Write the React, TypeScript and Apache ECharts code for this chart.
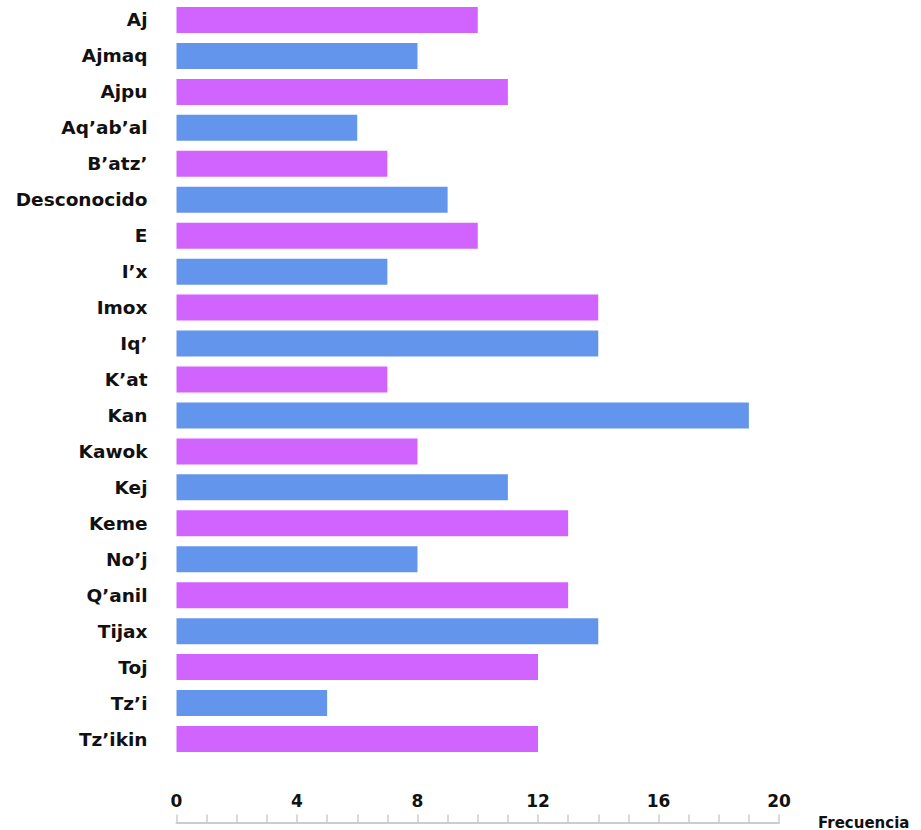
import React, { useEffect, useRef } from "react";
import * as echarts from "echarts";

const categories = [
  "Aj", "Ajmaq", "Ajpu", "Aq’ab’al", "B’atz’", "Desconocido", "E", "I’x", "Imox", "Iq’",
  "K’at", "Kan", "Kawok", "Kej", "Keme", "No’j", "Q’anil", "Tijax", "Toj", "Tz’i", "Tz’ikin",
];
const values = [10, 8, 11, 6, 7, 9, 10, 7, 14, 14, 7, 19, 8, 11, 13, 8, 13, 14, 12, 5, 12];
const colors = ["#D163FF", "#6495ED"];
const axisName = "Frecuencia";

export default function App() {
  const ref = useRef<HTMLDivElement>(null);
  useEffect(() => {
    const chart = echarts.init(ref.current!, null, { renderer: "svg" });
    const font = "DejaVu Sans, sans-serif";
    chart.setOption({
      animation: false,
      grid: { left: 176.5, right: 142, top: 2, bottom: 70, containLabel: false },
      xAxis: {
        type: "value",
        min: 0,
        max: 20,
        interval: 4,
        offset: 65.5,
        name: axisName,
        nameLocation: "end",
        nameGap: 39,
        nameTextStyle: {
          fontFamily: font, fontWeight: "bold", fontSize: 15, color: "#111",
          verticalAlign: "middle", padding: [0, 0, 8, 0],
        },
        axisLine: { show: true, lineStyle: { color: "#cccccc", width: 2 } },
        axisTick: { show: true, inside: true, length: 8, lineStyle: { color: "#cccccc", width: 1.5 } },
        minorTick: { show: true, splitNumber: 4, length: 8, lineStyle: { color: "#cccccc", width: 1.5 } },
        axisLabel: { inside: true, margin: 13, fontFamily: font, fontWeight: "bold", fontSize: 17, color: "#111" },
        splitLine: { show: false },
      },
      yAxis: {
        type: "category",
        data: categories,
        inverse: true,
        axisLine: { show: false },
        axisTick: { show: false },
        axisLabel: { margin: 29, fontFamily: font, fontWeight: "bold", fontSize: 18.5, color: "#111" },
      },
      series: [
        {
          type: "bar",
          data: values,
          barWidth: 26,
          itemStyle: { color: (p: any) => colors[p.dataIndex % 2] },
        },
      ],
    });
    return () => chart.dispose();
  }, []);
  return <div ref={ref} style={{ position: "absolute", left: 0, top: 0, width: 921, height: 830 }} />;
}
